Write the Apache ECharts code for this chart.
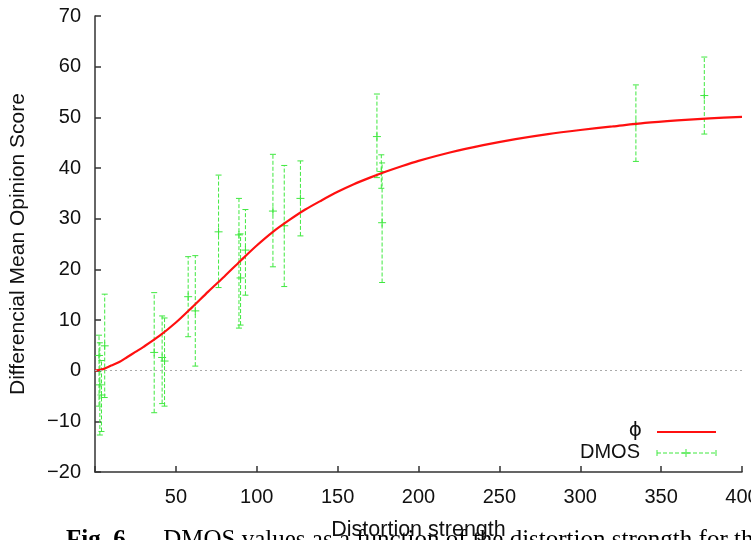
<!DOCTYPE html>
<html><head><meta charset="utf-8">
<script src="https://cdn.jsdelivr.net/npm/echarts@6/dist/echarts.min.js"></script>
<style>html,body{margin:0;padding:0;background:#fff;overflow:hidden}#c{width:751px;height:540px}</style>
</head><body><div id="c"></div>
<script>
// fitted curve phi
const curveX = [0,5,10,15,20,25,30,40,50,60,70,80,90,100,110,120,130,140,150,160,170,180,190,200,220,240,260,280,300,320,340,360,380,400];
const curveY = [0,0.3,1.0,1.7,2.7,3.7,4.7,6.9,9.5,12.5,15.6,18.6,21.7,24.7,27.4,29.7,31.8,33.6,35.3,36.8,38.1,39.3,40.4,41.4,43.1,44.5,45.7,46.7,47.5,48.2,48.9,49.4,49.8,50.1];
// DMOS observations with error bars
const dmosX    = [2.5, 3, 4, 6, 36.6, 41.5, 43, 57.6, 62, 76.4, 89, 90, 93, 110, 117, 127, 174.3, 177, 177.5, 334.4, 376.7];
const dmosY    = [3.0, -2.8, -4.8, 4.9, 3.6, 2.6, 1.9, 14.6, 11.8, 27.4, 26.8, 18.3, 23.8, 31.5, 28.6, 34.0, 46.2, 39.3, 29.2, 48.8, 54.3];
const dmosLow  = [-7.0, -12.7, -12.0, -5.3, -8.3, -6.5, -7.0, 6.7, 0.9, 16.4, 8.4, 9.0, 14.9, 20.5, 16.6, 26.6, 38.1, 36.0, 17.4, 41.3, 46.7];
const dmosHigh = [7.0, 5.5, 2.0, 15.1, 15.4, 10.8, 10.4, 22.5, 22.7, 38.6, 34.0, 27.0, 31.8, 42.7, 40.5, 41.4, 54.6, 42.6, 41.0, 56.4, 61.9];
const xTicks = [50,100,150,200,250,300,350,400];
const yTicks = [-20,-10,0,10,20,30,40,50,60,70];

const FONT = '"Liberation Sans", Arial, Helvetica, sans-serif';
const GREEN = '#3fe83f';
const RED = '#ff1010';
const AX = '#333';

const chart = echarts.init(document.getElementById('c'));
const curveData = curveX.map((x, i) => [x, curveY[i]]);
const dmosData = dmosX.map((x, i) => [x, dmosY[i], dmosLow[i], dmosHigh[i]]);

function renderErr(params, api) {
  const x = api.value(0), y = api.value(1), lo = api.value(2), hi = api.value(3);
  const pLo = api.coord([x, lo]), pHi = api.coord([x, hi]), p = api.coord([x, y]);
  const cap = 3, m = 4;
  const dashed = {stroke: GREEN, lineWidth: 1, lineDash: [4, 2], fill: null};
  const solid = {stroke: GREEN, lineWidth: 1, fill: null};
  return {type: 'group', children: [
    {type: 'line', shape: {x1: pLo[0], y1: pLo[1], x2: pHi[0], y2: pHi[1]}, style: dashed},
    {type: 'line', shape: {x1: pLo[0] - cap, y1: pLo[1], x2: pLo[0] + cap, y2: pLo[1]}, style: solid},
    {type: 'line', shape: {x1: pHi[0] - cap, y1: pHi[1], x2: pHi[0] + cap, y2: pHi[1]}, style: solid},
    {type: 'line', shape: {x1: p[0] - m, y1: p[1], x2: p[0] + m, y2: p[1]}, style: solid},
    {type: 'line', shape: {x1: p[0], y1: p[1] - m, x2: p[0], y2: p[1] + m}, style: solid}
  ]};
}

const minus = v => (v < 0 ? '\u2212' + Math.abs(v) : String(v));

chart.setOption({
  animation: false,
  backgroundColor: '#fff',
  grid: {left: 95, right: 9, top: 16, bottom: 68, containLabel: false, outerBoundsMode: 'none'},
  xAxis: {
    type: 'value', min: 0, max: 400, interval: 50,
    name: 'Distortion strength', nameLocation: 'middle', nameGap: 47,
    nameTextStyle: {fontFamily: FONT, fontSize: 21.5, color: '#111'},
    axisLine: {show: true, onZero: false, lineStyle: {color: AX, width: 1.5}},
    axisTick: {show: true, inside: true, length: 6, lineStyle: {color: AX, width: 1.5}},
    axisLabel: {fontFamily: FONT, fontSize: 20, color: '#111', margin: 15, hideOverlap: false,
      formatter: v => (xTicks.indexOf(v) >= 0 ? String(v) : '')},
    splitLine: {show: false}
  },
  yAxis: {
    type: 'value', min: -20, max: 70, interval: 10,
    name: 'Differencial Mean Opinion Score', nameLocation: 'middle', nameGap: 66,
    nameTextStyle: {fontFamily: FONT, fontSize: 21, color: '#111'},
    axisLine: {show: true, onZero: false, lineStyle: {color: AX, width: 1.5}},
    axisTick: {show: true, inside: true, length: 6, lineStyle: {color: AX, width: 1.5}},
    axisLabel: {fontFamily: FONT, fontSize: 20, color: '#111', margin: 14,
      formatter: v => (yTicks.indexOf(v) >= 0 ? minus(v) : '')},
    splitLine: {show: false}
  },
  series: [
    {
      name: 'ϕ', type: 'line', data: curveData, smooth: 0.3, showSymbol: false,
      lineStyle: {color: RED, width: 2.2}, z: 3,
      markLine: {silent: true, symbol: 'none', label: {show: false},
        lineStyle: {type: [2, 3], color: '#aaa', width: 1},
        data: [{yAxis: 0}]}
    },
    {
      name: 'DMOS', type: 'custom', data: dmosData, renderItem: renderErr,
      encode: {x: 0, y: [1, 2, 3]}, z: 2
    }
  ],
  graphic: [
    {type: 'text', right: 751 - 642, top: 421, style: {text: 'ϕ', font: '20px "DejaVu Sans", sans-serif', fill: '#111', textAlign: 'right'}},
    {type: 'line', shape: {x1: 657, y1: 432, x2: 716, y2: 432}, style: {stroke: RED, lineWidth: 2.2}},
    {type: 'text', left: 580, top: 442, style: {text: 'DMOS', font: '20px ' + FONT, fill: '#111'}},
    {type: 'line', shape: {x1: 657, y1: 453, x2: 716, y2: 453}, style: {stroke: GREEN, lineWidth: 1, lineDash: [4, 2]}},
    {type: 'line', shape: {x1: 657, y1: 450, x2: 657, y2: 456}, style: {stroke: GREEN, lineWidth: 1}},
    {type: 'line', shape: {x1: 716, y1: 450, x2: 716, y2: 456}, style: {stroke: GREEN, lineWidth: 1}},
    {type: 'line', shape: {x1: 682, y1: 453, x2: 690, y2: 453}, style: {stroke: GREEN, lineWidth: 1}},
    {type: 'line', shape: {x1: 686, y1: 449, x2: 686, y2: 457}, style: {stroke: GREEN, lineWidth: 1}},
    {type: 'text', left: 66, top: 528, z: -1, style: {
      text: '{b|Fig. 6.}     DMOS values as a function of the distortion strength for the',
      font: '25px "Liberation Serif", "Times New Roman", serif', fill: '#000',
      rich: {b: {font: 'bold 25px "Liberation Serif", "Times New Roman", serif', fill: '#000'}}}}
  ]
});
</script>
</body></html>
